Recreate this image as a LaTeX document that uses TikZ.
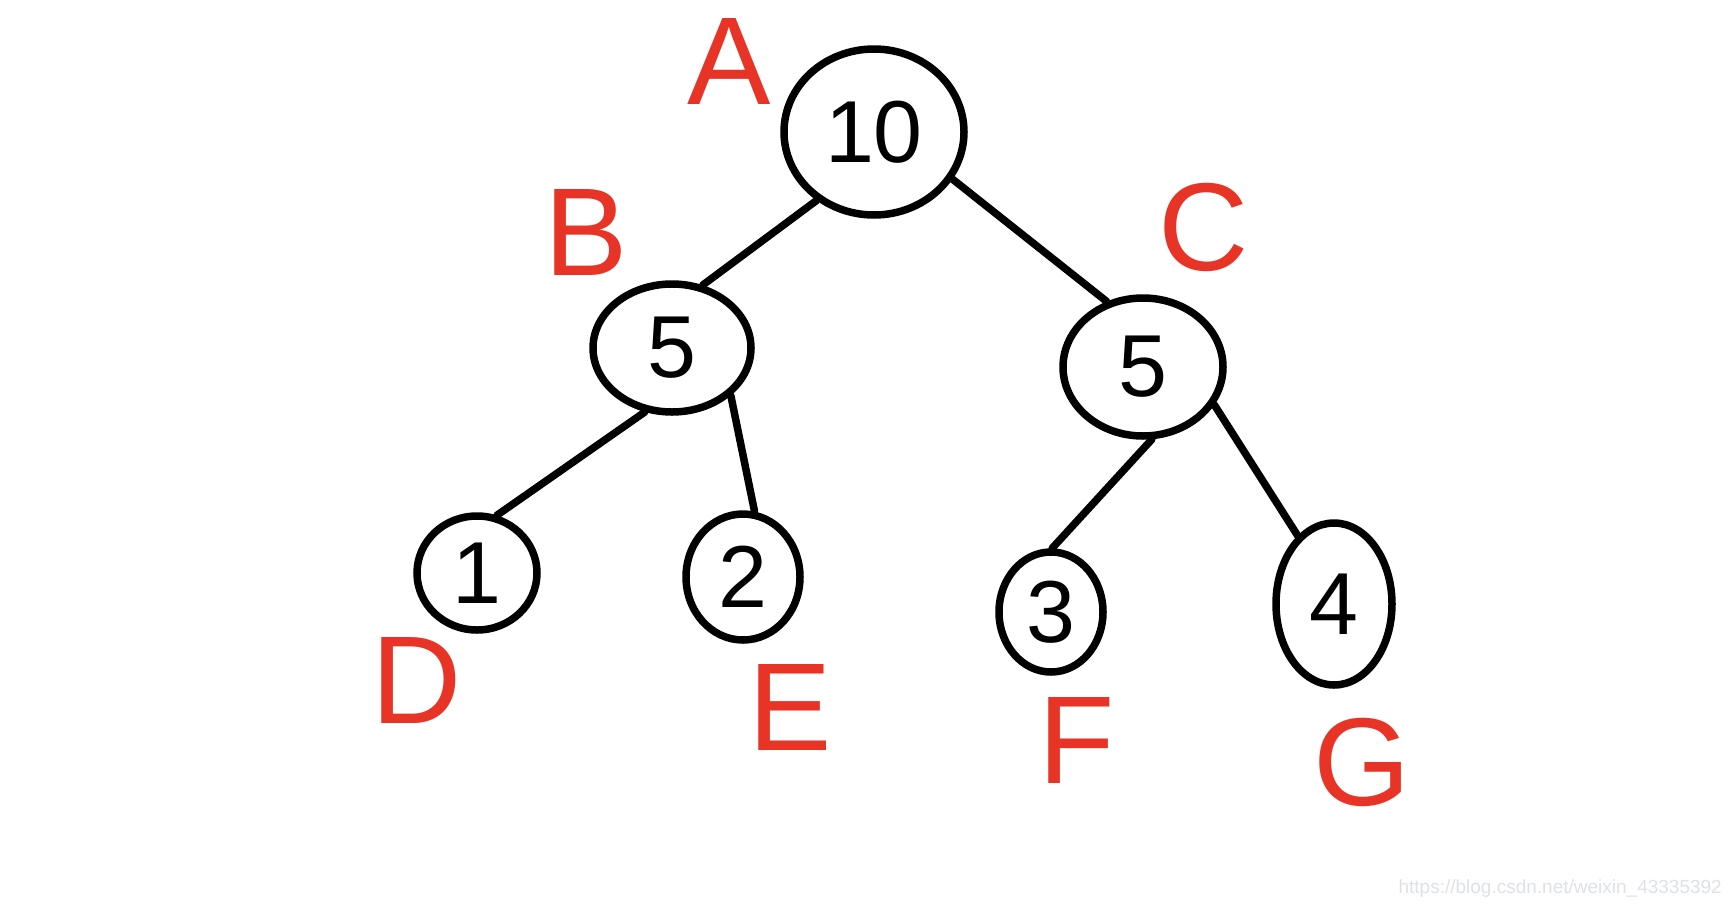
\documentclass[tikz,border=0pt]{standalone}
\usepackage{fontspec}
\setmainfont{Liberation Sans}
\usetikzlibrary{shapes.geometric}
\definecolor{penred}{RGB}{232,52,38}
\definecolor{wmgray}{RGB}{222,226,232}
\tikzset{
  heapnode/.style={ellipse, draw=black, line width=7.5pt, inner sep=0pt,
    font=\fontsize{88}{88}\selectfont},
  edgeline/.style={draw=black, line width=7.5pt, line cap=round},
  tag/.style={text=penred, font=\fontsize{125}{125}\selectfont, inner sep=0pt}
}
\begin{document}
\begin{tikzpicture}[x=1pt,y=-1pt]
\useasboundingbox[fill=white] (0,0) rectangle (1733,908);
% tree nodes
\node[heapnode, minimum width=180pt, minimum height=166pt] (A) at (874,132) {10};
\node[heapnode, minimum width=158pt, minimum height=128pt] (B) at (672,348) {5};
\node[heapnode, minimum width=160pt, minimum height=138pt] (C) at (1143,367) {5};
\node[heapnode, minimum width=120pt, minimum height=114pt] (D) at (477,573) {1};
\node[heapnode, minimum width=114pt, minimum height=126pt] (E) at (743,577) {2};
\node[heapnode, minimum width=104pt, minimum height=120pt] (F) at (1051,612) {3};
\node[heapnode, minimum width=116pt, minimum height=162pt] (G) at (1334,604) {4};
% edges
\draw[edgeline] (A.230) -- (B.64);
\draw[edgeline] (A.329) -- (C.119);
\draw[edgeline] (B.247) -- (D.71);
\draw[edgeline] (B.321) -- (E.80);
\draw[edgeline] (C.277) -- (F.89);
\draw[edgeline] (C.332) -- (G.118);
% red labels
\node[tag] (la) at (729,61) {A};
\node[tag] (lb) at (586,232) {B};
\node[tag] (lc) at (1204,227) {C};
\node[tag] (ld) at (417,680) {D};
\node[tag] (le) at (790,707) {E};
\node[tag] (lf) at (1077,740) {F};
\node[tag] (lg) at (1362,762) {G};
% watermark
\node[text=wmgray, font=\fontsize{19}{19}\selectfont, anchor=east, inner sep=0pt] (wm) at (1722,889) {https://blog.csdn.net/weixin\_43335392};
\end{tikzpicture}
\end{document}
